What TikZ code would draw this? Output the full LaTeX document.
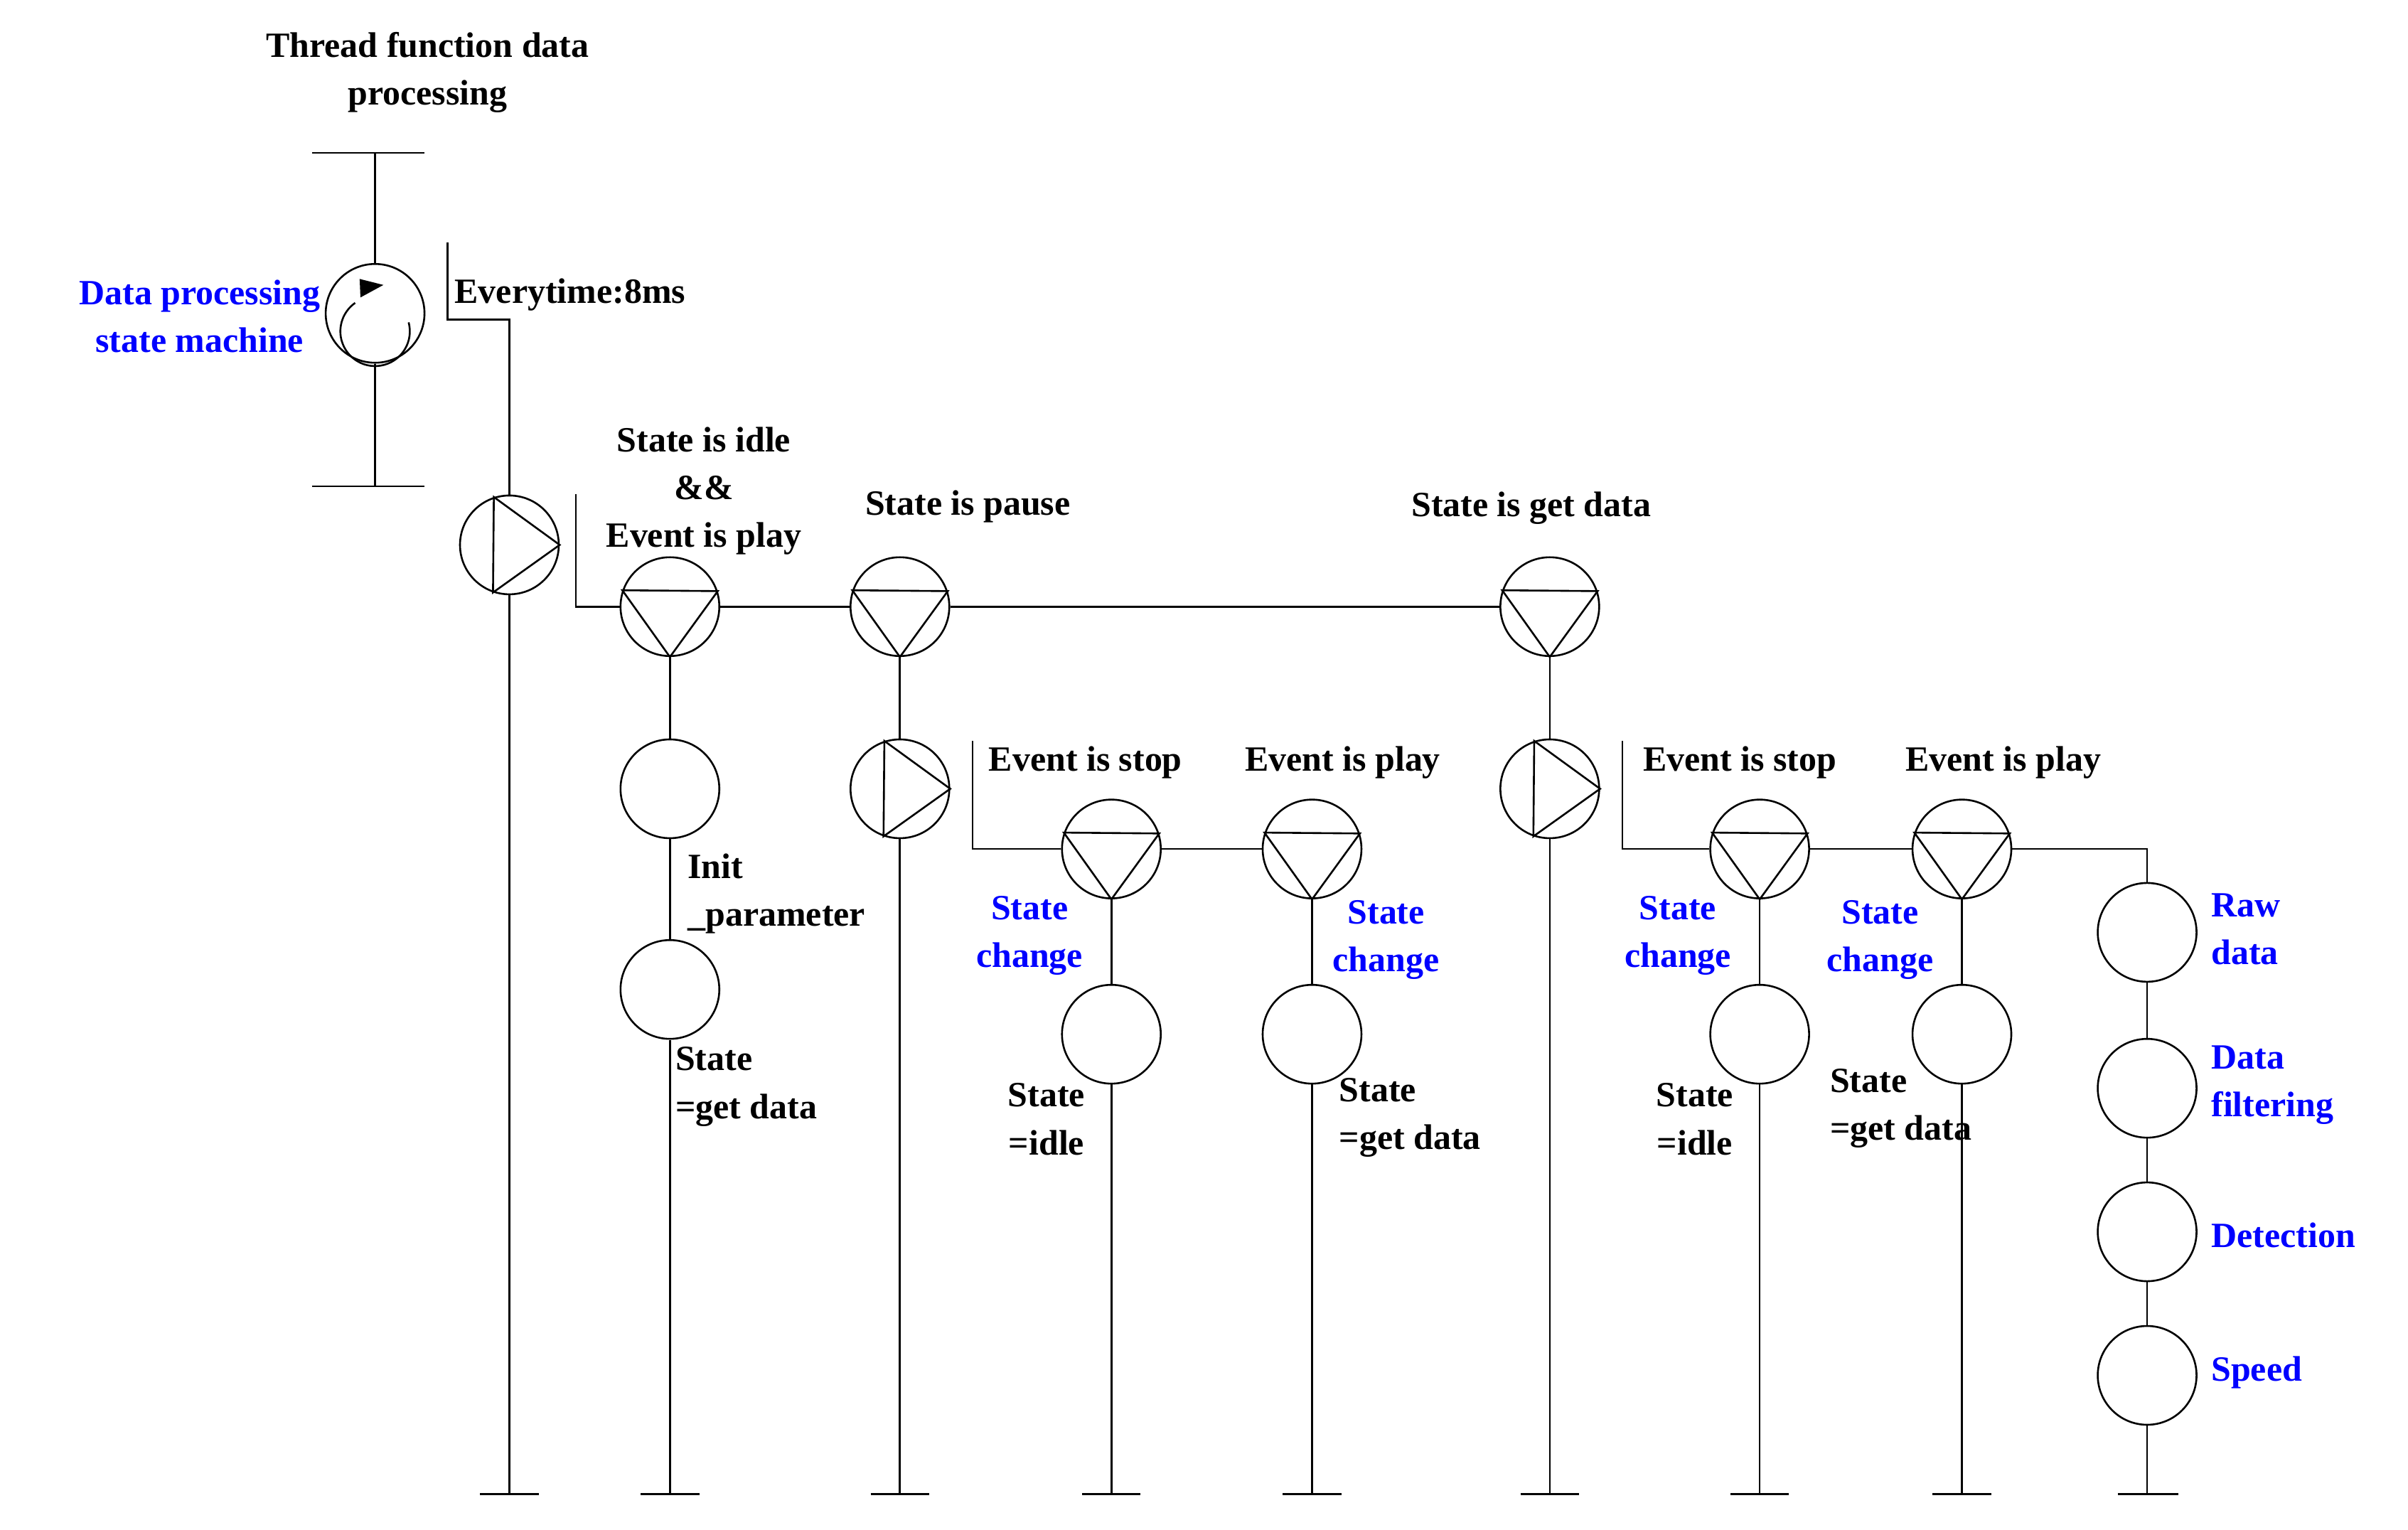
\documentclass[tikz,border=0pt]{standalone}
\usepackage{fontspec}
\setmainfont{Liberation Serif}
\begin{document}
\begin{tikzpicture}[x=0.5pt,y=-0.5pt,line width=0.6pt,
  circ/.style={draw,circle,minimum size=32pt,inner sep=0pt},
  txt/.style={font=\bfseries\fontsize{11.5}{15.5}\selectfont,inner sep=0pt},
  blu/.style={txt,text=blue},
  dn/.pic={},
]
\useasboundingbox (0,0) rectangle (1560,991);
\newcommand{\downtri}[1]{\draw (#1.18.7) -- (#1.161.3) -- (#1.270) -- cycle;}
\newcommand{\righttri}[1]{\draw (#1.108.7) -- (#1.251.3) -- (#1.0) -- cycle;}
\newcommand{\gnd}[2]{\coordinate (#1) at (#2,968); \draw ($(#1)+(-19,0)$) -- ($(#1)+(19,0)$);}
% title
\node[txt,align=center] (title) at (277,47) {Thread function data\\processing};
\coordinate (t1) at (243,99); \coordinate (t2) at (243,315);
\draw (202,99) -- (275,99); \draw (202,315) -- (275,315);
\node[circ] (sm) at (243,203) {};
\draw (t1) -- (sm) -- (t2);
\draw (sm.center) ++(15:22.5) arc[start angle=-15,end angle=235,radius=22.5];
\fill (sm.center) ++(-10,-22.3) -- ++(15.4,3.9) -- ++(-14.9,8.1) -- cycle;
\node[blu,align=center,anchor=east] (dpl) at (208,205) {Data processing\\state machine};
% first pump
\node[circ] (p0) at (330,353) {}; \righttri{p0}
\coordinate (b0a) at (290,157); \coordinate (b0b) at (290,207); \coordinate (b0c) at (330,207);
\draw (b0a) -- (b0b) -- (b0c) -- (p0);
\node[txt,anchor=west] (evt) at (294,191) {Everytime:8ms};
\coordinate (g0) at (330,968); \draw (p0) -- (g0); \draw (311,968) -- (349,968);
% row of down triangles
\node[circ] (A) at (434,393) {}; \downtri{A}
\node[circ] (B) at (583,393) {}; \downtri{B}
\node[circ] (C) at (1004,393) {}; \downtri{C}
\coordinate (b1a) at (373,320); \coordinate (b1b) at (373,393);
\draw (b1a) -- (b1b) -- (A) -- (B) -- (C);
\node[txt,align=center] (l1) at (456,318) {State is idle\\\&\&\\Event is play};
\node[txt] (l2) at (627,328) {State is pause};
\node[txt] (l3) at (992,329) {State is get data};
% column A
\node[circ] (A1) at (434,511) {};
\node[circ] (A2) at (434,641) {};
\coordinate (gA) at (434,968);
\draw (A) -- (A1) -- (A2) -- (gA); \draw (415,968) -- (453,968);
\node[txt,align=left,anchor=west] at (445,579) {Init\\\_parameter};
\node[txt,align=left,anchor=west] at (437,704) {State\\=get data};
% column B
\node[circ] (B1) at (583,511) {}; \righttri{B1}
\coordinate (gB) at (583,968);
\draw (B) -- (B1) -- (gB); \draw (564,968) -- (602,968);
\node[circ] (B2) at (720,550) {}; \downtri{B2}
\node[circ] (B3) at (850,550) {}; \downtri{B3}
\coordinate (b2a) at (630,480); \coordinate (b2b) at (630,550);
\draw (b2a) -- (b2b) -- (B2) -- (B3);
\node[txt,anchor=west] at (640,494) {Event is stop};
\node[txt,anchor=west] at (806,494) {Event is play};
\node[circ] (B4) at (720,670) {};
\node[circ] (B5) at (850,670) {};
\coordinate (gB2) at (720,968); \coordinate (gB3) at (850,968);
\draw (B2) -- (B4) -- (gB2); \draw (701,968) -- (739,968);
\draw (B3) -- (B5) -- (gB3); \draw (831,968) -- (869,968);
\node[blu,align=center] at (667,606) {State\\change};
\node[blu,align=center] at (898,609) {State\\change};
\node[txt,align=center] at (678,725) {State\\=idle};
\node[txt,align=left,anchor=west] at (867,724) {State\\=get data};
% column C
\node[circ] (C1) at (1004,511) {}; \righttri{C1}
\coordinate (gC) at (1004,968);
\draw (C) -- (C1) -- (gC); \draw (985,968) -- (1023,968);
\node[circ] (C2) at (1140,550) {}; \downtri{C2}
\node[circ] (C3) at (1271,550) {}; \downtri{C3}
\coordinate (b3a) at (1051,480); \coordinate (b3b) at (1051,550);
\coordinate (b3c) at (1391,550);
\node[circ] (D1) at (1391,604) {};
\node[circ] (D2) at (1391,705) {};
\node[circ] (D3) at (1391,798) {};
\node[circ] (D4) at (1391,891) {};
\coordinate (gD) at (1391,968);
\draw (b3a) -- (b3b) -- (C2) -- (C3) -- (b3c) -- (D1) -- (D2) -- (D3) -- (D4) -- (gD);
\draw (1372,968) -- (1411,968);
\node[txt,anchor=west] at (1064,494) {Event is stop};
\node[txt,anchor=west] at (1234,494) {Event is play};
\node[circ] (C4) at (1140,670) {};
\node[circ] (C5) at (1271,670) {};
\coordinate (gC2) at (1140,968); \coordinate (gC3) at (1271,968);
\draw (C2) -- (C4) -- (gC2); \draw (1121,968) -- (1159,968);
\draw (C3) -- (C5) -- (gC3); \draw (1252,968) -- (1290,968);
\node[blu,align=center] at (1087,606) {State\\change};
\node[blu,align=center] at (1218,609) {State\\change};
\node[txt,align=center] at (1098,725) {State\\=idle};
\node[txt,align=left,anchor=west] at (1185,718) {State\\=get data};
\node[blu,align=left,anchor=west] at (1432,602) {Raw\\data};
\node[blu,align=left,anchor=west] at (1432,703) {Data\\filtering};
\node[blu,anchor=west] at (1432,800) {Detection};
\node[blu,anchor=west] at (1432,889) {Speed};
\end{tikzpicture}
\end{document}
